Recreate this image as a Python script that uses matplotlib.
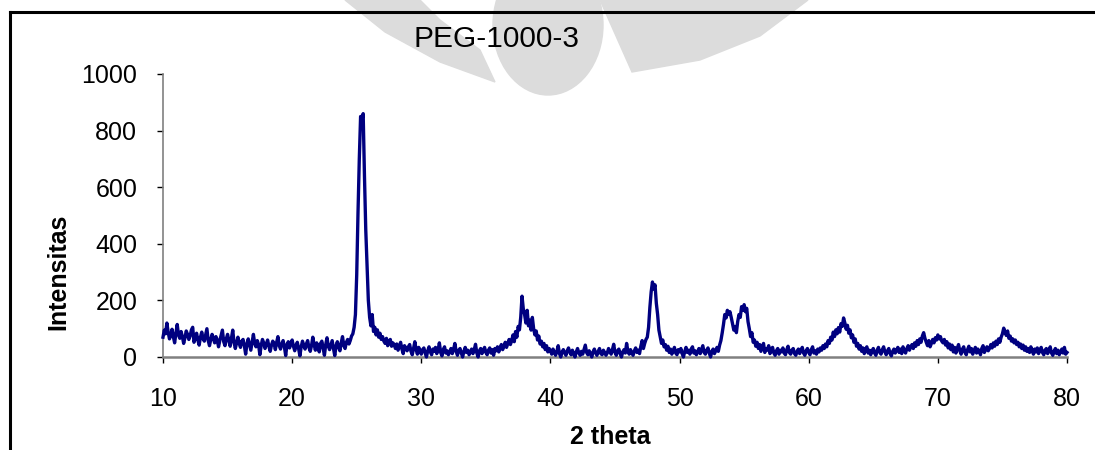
import matplotlib.pyplot as plt
import numpy as np
from matplotlib.lines import Line2D
from matplotlib.patches import Ellipse, Polygon

# XRD scan PEG-1000-3, 2 theta from 10 to 80 in steps of 0.1
two_theta = np.round(np.arange(10.0, 80.05, 0.1), 1)

intensity = [
    70, 95, 82, 120, 88, 64, 76, 98, 72, 50,         # 10
    84, 115, 78, 66, 90, 72, 48, 68, 92, 80,         # 11
    62, 74, 96, 105, 52, 66, 84, 60, 42, 70,         # 12
    88, 64, 56, 78, 100, 58, 40, 62, 80, 66,         # 13
    50, 72, 60, 36, 58, 76, 95, 54, 40, 64,          # 14
    80, 58, 38, 66, 95, 52, 30, 50, 70, 48,          # 15
    34, 56, 62, 40, 10, 46, 64, 44, 24, 52,          # 16
    80, 48, 36, 58, 44, 8, 40, 62, 50, 30,           # 17
    46, 60, 38, 20, 42, 56, 48, 26, 52, 72,          # 18
    40, 28, 46, 58, 36, 5, 44, 54, 32, 48,           # 19
    60, 38, 22, 42, 52, 30, 4, 36, 56, 42,           # 20
    28, 46, 58, 34, 20, 40, 70, 44, 24, 50,          # 21
    36, 18, 48, 56, 32, 6, 44, 68, 38, 26,           # 22
    42, 58, 30, 5, 40, 54, 34, 22, 50, 72,           # 23
    40, 30, 52, 62, 46, 58, 74, 82, 105, 150,        # 24
    290, 510, 700, 850, 835, 860, 640, 450, 330, 200,  # 25
    140, 110, 150, 90, 105, 78, 96, 70, 84, 62,      # 26
    72, 56, 48, 66, 40, 54, 62, 38, 50, 44,          # 27
    30, 46, 24, 38, 52, 28, 12, 40, 32, 22,          # 28
    36, 44, 20, 8, 30, 54, 26, 10, 34, 24,           # 29
    10, 26, 32, 14, 0, 22, 36, 18, 8, 28,            # 30
    20, 34, 12, 24, 50, 16, 4, 26, 36, 14,           # 31
    22, 8, 18, 30, 12, 26, 48, 20, 6, 24,            # 32
    30, 14, 0, 20, 34, 16, 24, 8, 18, 28,            # 33
    12, 26, 45, 14, 0, 22, 30, 12, 24, 34,           # 34
    16, 8, 24, 32, 14, 26, 6, 30, 22, 36,            # 35
    18, 32, 44, 26, 38, 52, 34, 48, 62, 44,          # 36
    58, 78, 54, 90, 70, 108, 96, 140, 215, 170,      # 37
    150, 120, 165, 110, 130, 95, 140, 100, 78, 92,   # 38
    60, 74, 46, 56, 36, 48, 26, 40, 18, 30,          # 39
    22, 10, 28, 16, 6, 20, 40, 12, 0, 18,            # 40
    26, 14, 6, 22, 32, 16, 8, 24, 12, 0,             # 41
    18, 30, 14, 6, 20, 10, 26, 42, 16, 8,            # 42
    22, 12, 0, 18, 28, 14, 6, 20, 30, 12,            # 43
    8, 24, 16, 6, 14, 30, 20, 10, 26, 45,            # 44
    16, 6, 22, 28, 12, 0, 18, 26, 14, 48,            # 45
    20, 10, 26, 14, 6, 22, 32, 16, 24, 12,           # 46
    38, 58, 30, 48, 62, 70, 105, 175, 230, 265,      # 47
    240, 255, 190, 150, 95, 72, 48, 60, 36, 44,      # 48
    24, 38, 16, 28, 10, 22, 34, 14, 8, 26,           # 49
    18, 30, 12, 0, 20, 34, 16, 24, 10, 28,           # 50
    36, 14, 22, 8, 18, 30, 12, 26, 40, 16,           # 51
    10, 24, 32, 14, 0, 20, 28, 12, 22, 34,           # 52
    20, 42, 58, 85, 115, 150, 138, 165, 150, 160,    # 53
    140, 118, 95, 108, 86, 125, 150, 140, 178, 165,  # 54
    185, 160, 172, 125, 100, 72, 86, 52, 60, 38,     # 55
    52, 30, 44, 20, 36, 48, 16, 30, 24, 40,          # 56
    12, 26, 34, 14, 6, 22, 30, 10, 24, 18,           # 57
    32, 14, 8, 26, 38, 16, 10, 24, 30, 12,           # 58
    6, 20, 28, 12, 24, 34, 14, 6, 22, 30,            # 59
    16, 8, 26, 36, 14, 22, 10, 28, 18, 32,           # 60
    24, 40, 30, 46, 36, 58, 48, 70, 60, 88,          # 61
    72, 96, 82, 104, 88, 118, 108, 138, 120, 98,     # 62
    112, 84, 96, 68, 78, 52, 64, 38, 48, 28,         # 63
    40, 20, 32, 12, 28, 36, 14, 24, 8, 22,           # 64
    30, 14, 6, 24, 34, 16, 10, 26, 36, 18,           # 65
    8, 22, 30, 12, 4, 20, 28, 14, 24, 34,            # 66
    16, 28, 12, 36, 22, 14, 30, 40, 24, 36,          # 67
    44, 30, 50, 38, 58, 44, 64, 52, 74, 86,          # 68
    66, 52, 40, 58, 36, 48, 62, 50, 68, 60,          # 69
    78, 64, 72, 56, 50, 62, 42, 54, 32, 46,          # 70
    26, 42, 18, 34, 14, 30, 44, 22, 10, 28,          # 71
    36, 16, 8, 26, 38, 18, 30, 10, 22, 34,           # 72
    14, 28, 20, 8, 30, 40, 16, 26, 36, 22,           # 73
    30, 44, 32, 50, 38, 56, 44, 64, 52, 70,          # 74
    82, 102, 88, 76, 92, 66, 74, 56, 64, 50,         # 75
    60, 44, 52, 36, 46, 30, 42, 24, 36, 20,          # 76
    30, 16, 36, 24, 10, 28, 18, 32, 12, 24,          # 77
    34, 16, 8, 24, 30, 12, 22, 36, 14, 6,            # 78
    20, 30, 12, 24, 8, 18, 28, 14, 34, 10,           # 79
    16,                                              # 80
]

x_ticks = [10, 20, 30, 40, 50, 60, 70, 80]
y_ticks = [0, 200, 400, 600, 800, 1000]

plt.rcParams['font.family'] = ['Liberation Sans', 'DejaVu Sans']

W, H = 1095, 450
fig = plt.figure(figsize=(W / 100, H / 100), dpi=100)


def fx(px):
    return px / W


def fy(py):
    return 1 - py / H


# faint watermark from the scanned page
wm = '#dcdcdc'
fig.add_artist(Ellipse((fx(548), fy(25)), 110 / W, 140 / H, color=wm, zorder=0))
fig.add_artist(Polygon([(fx(345), fy(0)), (fx(385), fy(32)), (fx(440), fy(62)),
                        (fx(495), fy(82)), (fx(480), fy(50)), (fx(440), fy(20)),
                        (fx(420), fy(0))], closed=True, color=wm, zorder=0))
fig.add_artist(Polygon([(fx(600), fy(0)), (fx(632), fy(72)), (fx(700), fy(60)),
                        (fx(760), fy(36)), (fx(808), fy(0))], closed=True, color=wm, zorder=0))

# page frame (left and top edges)
fig.add_artist(Line2D([fx(10), fx(10)], [fy(12), 0], color='black', lw=2.2))
fig.add_artist(Line2D([fx(10), 1], [fy(12), fy(12)], color='black', lw=2.2))

ax = fig.add_axes([fx(163), fy(357), (1067 - 163) / W, (357 - 74) / H])
ax.patch.set_alpha(0)

ax.plot(two_theta, intensity, color='#000080', lw=2.4, zorder=3, clip_on=False)

ax.set_xlim(10, 80)
ax.set_ylim(0, 1000)
ax.set_xticks(x_ticks)
ax.set_yticks(y_ticks)

ax.spines['right'].set_visible(False)
ax.spines['top'].set_visible(False)
ax.spines['left'].set_color('#808080')
ax.spines['bottom'].set_color('#808080')
ax.spines['left'].set_linewidth(1.2)
ax.spines['bottom'].set_linewidth(1.8)

ax.tick_params(axis='x', direction='out', length=4.5, width=1, color='black',
               labelsize=18, pad=17)
ax.tick_params(axis='y', direction='out', length=4.5, width=1, color='black',
               labelsize=18, pad=14)

fig.text(fx(496), fy(39), 'PEG-1000-3', fontsize=21.5, ha='center', va='center')
fig.text(fx(610), fy(437), '2 theta', fontsize=18, fontweight='bold',
         ha='center', va='center')
fig.text(fx(58), fy(272), 'Intensitas', fontsize=18, fontweight='bold',
         rotation=90, ha='center', va='center')

fig.savefig('out.png', dpi=100)
